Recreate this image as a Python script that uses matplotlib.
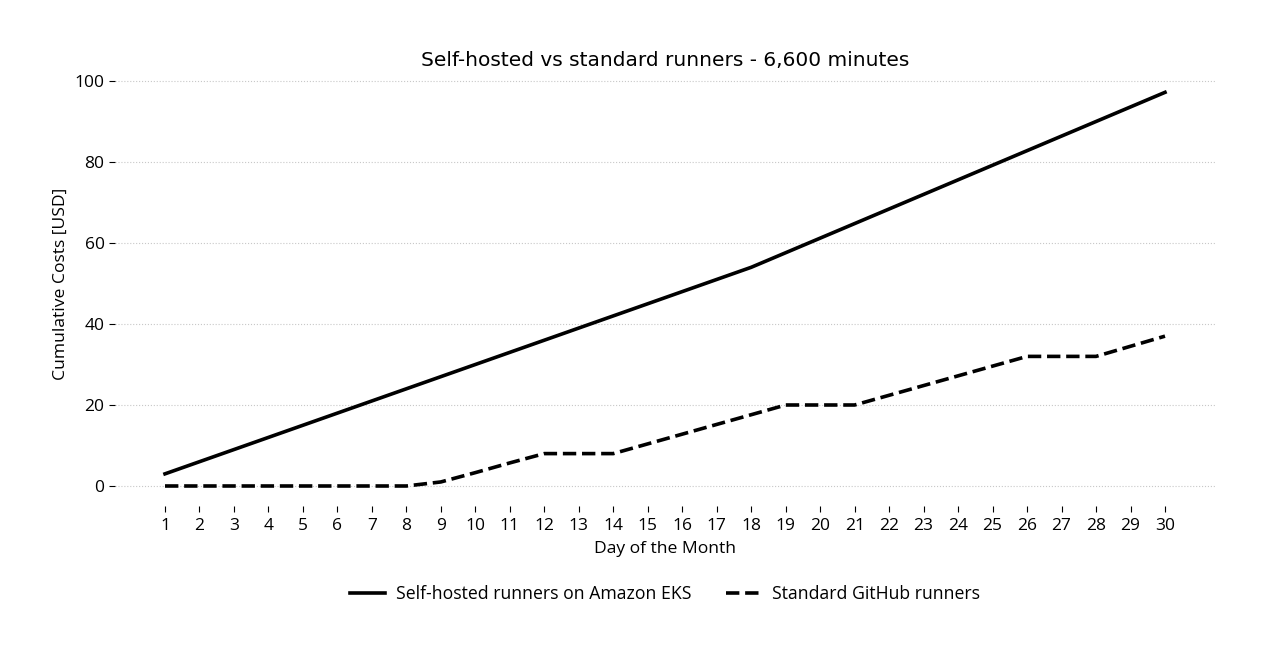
import matplotlib
matplotlib.use("Agg")
import matplotlib.pyplot as plt

plt.rcParams['font.family'] = ['Open Sans', 'DejaVu Sans']

days = list(range(1, 31))
self_hosted = [3, 6, 9, 12, 15, 18, 21, 24, 27, 30, 33, 36, 39, 42, 45, 48, 51, 54,
               57.6, 61.2, 64.8, 68.4, 72, 75.6, 79.2, 82.8, 86.4, 90, 93.6, 97.2]
standard = [0, 0, 0, 0, 0, 0, 0, 0, 1, 3.3, 5.7, 8, 8, 8, 10.4, 12.8, 15.2, 17.6,
            20, 20, 20, 22.4, 24.8, 27.2, 29.6, 32, 32, 32, 34.5, 37]
yticks = [0, 20, 40, 60, 80, 100]

fig = plt.figure(figsize=(12.65, 6.6), dpi=100)
ax = fig.add_axes([115/1265, 1 - 506/660, 1100/1265, 445/660])

ax.plot(days, self_hosted, color='black', linewidth=2.6, linestyle='-',
        label='Self-hosted runners on Amazon EKS')
ax.plot(days, standard, color='black', linewidth=2.6, linestyle='--',
        label='Standard GitHub runners')

ax.set_xlim(1 - 50/34.48, 30 + 50/34.48)
ax.set_ylim(-4.94, 104.94)
ax.set_xticks(days)
ax.set_yticks(yticks)
ax.tick_params(labelsize=12.5, length=4, color='black')
ax.tick_params(axis='x', pad=5)
ax.grid(axis='y', linestyle=':', color='#c8c8c8', linewidth=0.8)
ax.set_axisbelow(True)
for s in ax.spines.values():
    s.set_visible(False)

fig.text(665/1265, 1 - 61/660, 'Self-hosted vs standard runners - 6,600 minutes',
         fontsize=14.5, family='DejaVu Sans', ha='center', va='center')
ax.set_xlabel('Day of the Month', fontsize=12.6, labelpad=5)
ax.set_ylabel('Cumulative Costs [USD]', fontsize=12.6)

fig.legend(loc='center', bbox_to_anchor=(665/1265, 1 - 594/660), ncol=2,
           frameon=False, fontsize=12.7, handlelength=2.0, handletextpad=0.6,
           columnspacing=2.0)

fig.savefig('out.png', dpi=100)
